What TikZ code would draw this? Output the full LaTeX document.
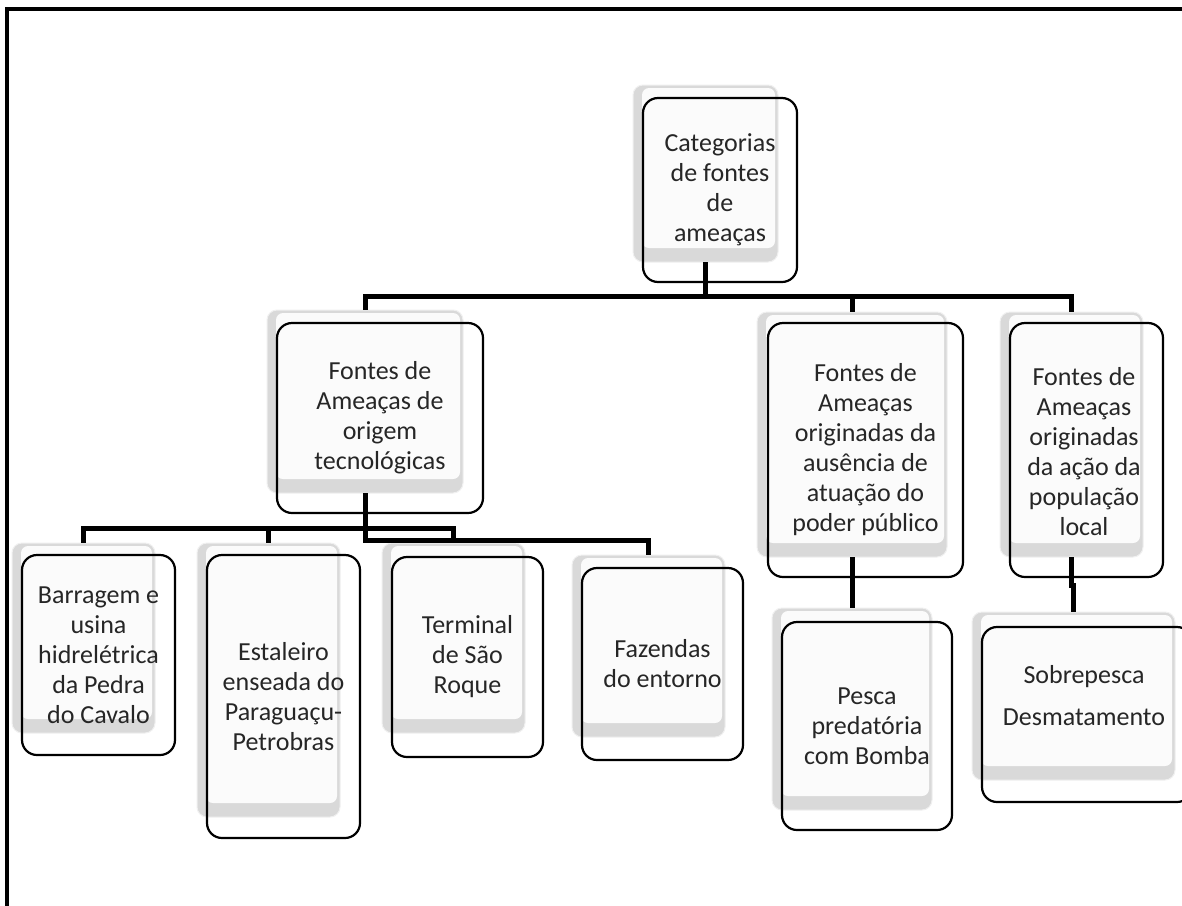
\documentclass[tikz,border=0pt]{standalone}
\usepackage{fontspec}
\setmainfont{Carlito}
\begin{document}
\begin{tikzpicture}[x=1pt,y=-1pt,
  shadowbox/.style={rounded corners=10pt, fill=gray!30, draw=gray!12, line width=1pt,
    inner sep=0pt, outer sep=0pt,
    path picture={\fill[white!97!gray, rounded corners=7pt]
      ([xshift=9pt,yshift=-3pt]path picture bounding box.north west) rectangle
      ([xshift=-3pt,yshift=14pt]path picture bounding box.south east);}},
  outlinebox/.style={draw=black, line width=2.2pt, rounded corners=15pt, inner sep=0pt, outer sep=0pt},
  conn/.style={line width=5pt, draw=black, line join=miter},
  lbl/.style={align=center, font=\fontsize{26}{30}\selectfont, text=black!85, inner sep=0pt}]
\useasboundingbox (0,0) rectangle (1182,905);
\clip (0,0) rectangle (1182,905);
\fill[white] (0,0) rectangle (1182,905);
% frame
\draw[line width=3.5pt] (7,920) -- (7,9) -- (1200,9);

% layout (shadow) boxes
\node[shadowbox, minimum width=145pt, minimum height=177pt] (root) at (705.5,173.5) {};
\node[shadowbox, minimum width=196pt, minimum height=183pt] (A) at (365,401.5) {};
\node[shadowbox, minimum width=190pt, minimum height=245pt] (B) at (852,434.5) {};
\node[shadowbox, minimum width=143pt, minimum height=245pt] (C) at (1071.5,434.5) {};
\node[shadowbox, minimum width=143pt, minimum height=190pt] (A1) at (83.5,638) {};
\node[shadowbox, minimum width=143pt, minimum height=274pt] (A2) at (268.5,680) {};
\node[shadowbox, minimum width=143pt, minimum height=190pt] (A3) at (453.5,638) {};
\node[shadowbox, minimum width=153pt, minimum height=182pt] (A4) at (648.5,646) {};
\node[shadowbox, minimum width=160pt, minimum height=202pt] (B1) at (852,709) {};
\node[shadowbox, minimum width=203pt, minimum height=168pt] (C1) at (1073.5,696) {};

% outline boxes
\node[outlinebox, minimum width=154pt, minimum height=184pt] (root-o) at (720,190) {};
\node[outlinebox, minimum width=206pt, minimum height=190pt] (A-o) at (380,418) {};
\node[outlinebox, minimum width=195pt, minimum height=254pt] (B-o) at (865.5,450) {};
\node[outlinebox, minimum width=153pt, minimum height=254pt] (C-o) at (1086.5,450) {};
\node[outlinebox, minimum width=153pt, minimum height=200pt] (A1-o) at (98.5,655) {};
\node[outlinebox, minimum width=153pt, minimum height=283pt] (A2-o) at (283.5,696.5) {};
\node[outlinebox, minimum width=151pt, minimum height=200pt] (A3-o) at (467.5,657) {};
\node[outlinebox, minimum width=161pt, minimum height=192pt] (A4-o) at (662.5,664) {};
\node[outlinebox, minimum width=170pt, minimum height=208pt] (B1-o) at (867,726) {};
\node[outlinebox, minimum width=210pt, minimum height=175pt] (C1-o) at (1087,714.5) {};

% connectors
\coordinate (busR) at (0,296);
\coordinate (busA) at (0,528);
\coordinate (busA4) at (0,540);
\coordinate (busC) at (0,585);
\draw[conn] (root.south) -- (root.south |- busR) -| (A.north);
\draw[conn] (root.south) -- (root.south |- busR) -| (B.north);
\draw[conn] (root.south) -- (root.south |- busR) -| (C.north);
\draw[conn] (A.south) -- (A.south |- busA) -| (A1.north);
\draw[conn] (A.south) -- (A.south |- busA) -| (A2.north);
\draw[conn] (A.south) -- (A.south |- busA) -| (A3.north);
\draw[conn] (A.south) -- (A.south |- busA4) -| (A4.north);
\draw[conn] (B.south) -- (B1.north);
\draw[conn] (C.south) -- (C.south |- busC) -| (C1.north);

% texts
\node[lbl] (root-t) at (root-o.center) {Categorias\\de fontes\\de\\ameaças};
\node[lbl] (A-t) at (A-o.center) {Fontes de\\Ameaças de\\origem\\tecnológicas};
\node[lbl] (B-t) at (B-o.center) {Fontes de\\Ameaças\\originadas da\\ausência de\\atuação do\\poder público};
\node[lbl] (C-t) at (1084,452) {Fontes de\\Ameaças\\originadas\\da ação da\\população\\local};
\node[lbl] (A1-t) at (A1-o.center) {Barragem e\\usina\\hidrelétrica\\da Pedra\\do Cavalo};
\node[lbl] (A2-t) at (A2-o.center) {Estaleiro\\enseada do\\Paraguaçu-\\Petrobras};
\node[lbl] (A3-t) at (A3-o.center) {Terminal\\de São\\Roque};
\node[lbl] (A4-t) at (A4-o.center) {Fazendas\\do entorno};
\node[lbl] (B1-t) at (B1-o.center) {Pesca\\predatória\\com Bomba};
\node[lbl] (C1-t) at (1084,696) {Sobrepesca\\[12pt]Desmatamento};
\end{tikzpicture}
\end{document}
